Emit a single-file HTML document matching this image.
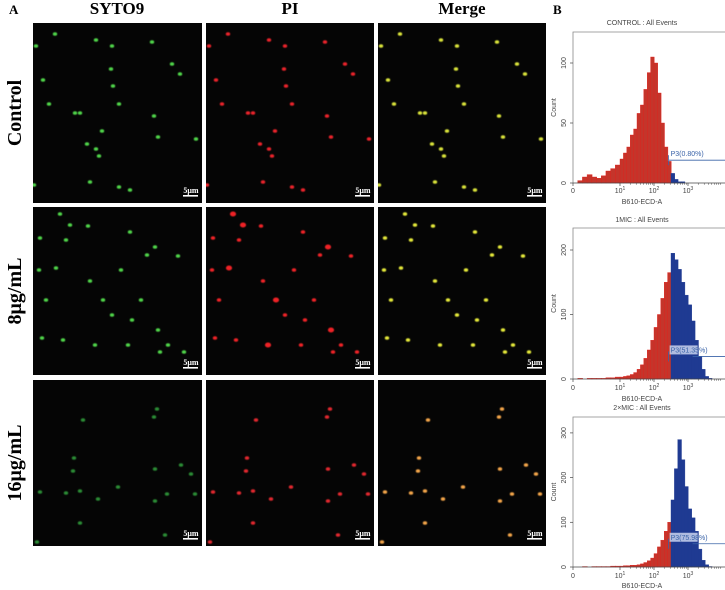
<!DOCTYPE html>
<html><head><meta charset="utf-8"><style>
html,body{margin:0;padding:0;background:#fff}
svg{display:block}
.ser{font-family:"Liberation Serif",serif;font-weight:bold}
.san{font-family:"Liberation Sans",sans-serif;fill:#444}
</style></head><body>
<svg id="fig" width="725" height="590" viewBox="0 0 725 590" xmlns="http://www.w3.org/2000/svg">
<defs><filter id="glow" x="-1" y="-1" width="3" height="3"><feGaussianBlur stdDeviation="0.6"/></filter></defs>
<rect width="725" height="590" fill="#fff"/>
<text class="ser" x="9" y="14" font-size="13">A</text>
<text class="ser" x="553" y="14" font-size="13">B</text>
<text class="ser" x="117" y="14" font-size="17" text-anchor="middle">SYTO9</text>
<text class="ser" x="290" y="14" font-size="17" text-anchor="middle">PI</text>
<text class="ser" x="462" y="14" font-size="17" text-anchor="middle">Merge</text>
<text class="ser" font-size="20" text-anchor="middle" transform="translate(21,113) rotate(-90)">Control</text>
<text class="ser" font-size="20" text-anchor="middle" transform="translate(21,291) rotate(-90)">8μg/mL</text>
<text class="ser" font-size="20" text-anchor="middle" transform="translate(21,463) rotate(-90)">16μg/mL</text>
<g id="panels"></g>
<g id="hists"></g>
</svg>
<script>
// ---- histogram data (bins of log10 intensity, step 0.1 from 0.0 to 3.8) ----
const binStart = 0.0, binStep = 0.1;
const controlCounts = [0,2,5,7,5,4,6,10,12,15,20,25,30,40,45,58,65,78,92,105,100,75,50,30,18,8,3,1,1,0,0,0,0,0,0,0,0,0,0];
const mic1Counts = [0,1,0,1,1,1,1,2,2,3,3,4,5,7,10,15,22,32,45,60,80,100,125,150,165,195,185,170,150,130,115,90,60,35,15,4,1,0,0];
const mic2Counts = [0,0,1,0,1,1,1,1,2,2,2,3,3,4,4,5,7,10,14,20,30,45,60,80,100,150,220,285,240,180,130,110,80,40,15,5,1,0,0];
const gateLabels = ["P3(0.80%)","P3(51.35%)","P3(75.98%)"];
const histTitles = ["CONTROL : All Events","1MIC : All Events","2×MIC : All Events"];
const yTicks1 = [0,50,100], yTicks2 = [0,100,200], yTicks3 = [0,100,200,300];
const xTickLabels = ["0","10","10","10"], xTickExp = ["","1","2","3"], xTickL = [0,1,2,3];
const gateL = 2.45;

const NS="http://www.w3.org/2000/svg";
function mk(tag,attrs,parent){const e=document.createElementNS(NS,tag);for(const k in attrs)e.setAttribute(k,attrs[k]);parent.appendChild(e);return e;}
function xPos(L){return L<1?573+L*47:620+(L-1)*34;}

const hists=document.getElementById('hists');
const cfg=[
 {counts:controlCounts,top:32,bottom:183,scale:1.2,ticks:yTicks1,gateY:19,title:25,tl:193,al:204,box:false},
 {counts:mic1Counts,top:228,bottom:379,scale:0.645,ticks:yTicks2,gateY:35,title:222,tl:390,al:401,box:true},
 {counts:mic2Counts,top:417,bottom:567,scale:0.447,ticks:yTicks3,gateY:52,title:410,tl:578,al:588,box:true}
];
cfg.forEach((c,hi)=>{
  const g=mk('g',{},hists);
  
  
  const yPos=v=>c.bottom-v*c.scale;
  const t=mk('text',{x:642,y:c.title,'font-size':7,'text-anchor':'middle',class:'san'},g);t.textContent=histTitles[hi];
  
  // frame
  mk('path',{d:`M573,${c.bottom}V${c.top}H725`,stroke:'#888','stroke-width':0.8,fill:'none'},g);
  // bars
  c.counts.forEach((v,i)=>{
    const L=binStart+i*binStep;
    if(v<=0)return;
    const blue=L>=gateL;
    const x0=xPos(L),x1=xPos(L+binStep);
    const r=mk('rect',{x:x0,y:yPos(v),width:x1-x0+0.3,height:v*c.scale,fill:blue?'#1f3a92':'#c4352b',stroke:blue?'#1f3a92':'#e3201c','stroke-width':0.4},g);
    
    
  });
  mk('line',{x1:573,y1:c.bottom,x2:725,y2:c.bottom,stroke:'#444','stroke-width':0.8},g);
  // y ticks
  c.ticks.forEach(v=>{
    const y=yPos(v);
    mk('line',{x1:570,y1:y,x2:573,y2:y,stroke:'#444','stroke-width':0.7},g);
    const tt=mk('text',{'font-size':7,'text-anchor':'middle',class:'san',transform:`translate(566,${y}) rotate(-90)`},g);
    tt.textContent=v;
    
  });
  const yl=mk('text',{'font-size':7,'text-anchor':'middle',class:'san',transform:`translate(556,${(c.top+c.bottom)/2}) rotate(-90)`},g);
  yl.textContent='Count';
  // x ticks
  xTickL.forEach((L,i)=>{
    const x=xPos(L);
    mk('line',{x1:x,y1:c.bottom,x2:x,y2:c.bottom+3,stroke:'#444','stroke-width':0.7},g);
    const tt=mk('text',{x:x,y:c.tl,'font-size':7,'text-anchor':'middle',class:'san'},g);
    tt.textContent=xTickLabels[i];
    if(xTickExp[i]){const s=mk('tspan',{dy:-3,'font-size':5},tt);s.textContent=xTickExp[i];}
    
  });
  for(let d=0;d<4;d++)for(let m=2;m<10;m++){
    const L=(d===0?0:d)+Math.log10(m)*(d===0?1:1); if(d===0)continue;
    const x=xPos(L); if(x>724)continue;
    mk('line',{x1:x,y1:c.bottom,x2:x,y2:c.bottom+1.8,stroke:'#444','stroke-width':0.5},g);
  }
  const xl=mk('text',{x:642,y:c.al,'font-size':7,'text-anchor':'middle',class:'san'},g);
  xl.textContent='B610-ECD-A';
  // gate
  const gx=xPos(gateL-0.02), gy=yPos(c.gateY);
  mk('line',{x1:gx,y1:gy-5,x2:gx,y2:gy+5,stroke:'#3a63a8','stroke-width':0.8},g);
  const gl=mk('line',{x1:c.box?gx+24:gx,y1:gy,x2:725,y2:gy,stroke:'#3a63a8','stroke-width':0.8},g);
  
  if(c.box)mk('rect',{x:gx+1,y:gy-11,width:28,height:9,fill:'#c9d3ee',opacity:0.85},g);
  const lt=mk('text',{x:gx+2,y:gy-4,'font-size':7,fill:'#3a63a8','font-family':'Liberation Sans, sans-serif'},g);
  lt.textContent=gateLabels[hi];
});

// ---- microscopy panels ----
const colX=[33,206,378], colW=[169,168,168];
const rowY=[23,207,380], rowH=[180,168,166];
const row1Cells=[[55,34],[36,46],[96,40],[112,46],[152,42],[172,64],[180,74],[111,69],[43,80],[113,86],[49,104],[75,113],[80,113],[119,104],[154,116],[102,131],[158,137],[196,139],[87,144],[96,149],[99,156],[34,185],[90,182],[119,187],[130,190]];
const row2Cells=[[60,214],[40,238],[66,240],[88,226],[155,247],[147,255],[121,270],[39,270],[56,268],[90,281],[178,256],[46,300],[103,300],[141,300],[112,315],[132,320],[158,330],[168,345],[42,338],[63,340],[95,345],[128,345],[160,352],[184,352],[70,225],[130,232]];
const row3Cells=[[157,409],[154,417],[83,420],[74,458],[73,471],[155,469],[181,465],[191,474],[40,492],[66,493],[80,491],[118,487],[98,499],[155,501],[167,494],[195,494],[80,523],[165,535],[37,542]];
const rowCells=[row1Cells,row2Cells,row3Cells];
const colors=[['#4fd34a','#e8232b','#d8e23a'],['#4fd34a','#ee2226','#e4e83a'],['#2a8a35','#e0282e','#f2a44a']];
const panels=document.getElementById('panels');
const names=['syto9','pi','merge'], rnames=['control','8ug','16ug'];
for(let r=0;r<3;r++)for(let c=0;c<3;c++){
  const g=mk('g',{},panels);
  
  
  const cp=mk('clipPath',{id:'cp'+r+c},g);
  mk('rect',{x:colX[c],y:rowY[r],width:colW[c],height:rowH[r]},cp);
  mk('rect',{x:colX[c],y:rowY[r],width:colW[c],height:rowH[r],fill:'#050505'},g);
  const dg=mk('g',{'clip-path':`url(#cp${r}${c})`},g);
  rowCells[r].forEach((p,i)=>{
    const big=(r===1&&c===1&&i%4===0)?1.4:1;
    const e=mk('ellipse',{cx:p[0]+colX[c]-33,cy:p[1],rx:2.2*big,ry:1.8*big,fill:colors[r][c],filter:'url(#glow)'},dg);
    
  });
  const rx=colX[c]+colW[c], by=rowY[r]+rowH[r];
  const sb=mk('text',{x:rx-11,y:by-10,'font-size':8,'text-anchor':'middle',fill:'#fff',class:'ser'},g);
  sb.textContent='5μm';
  mk('rect',{x:rx-19,y:by-8,width:15,height:1.6,fill:'#fff'},g);
}
</script>
</body></html>
